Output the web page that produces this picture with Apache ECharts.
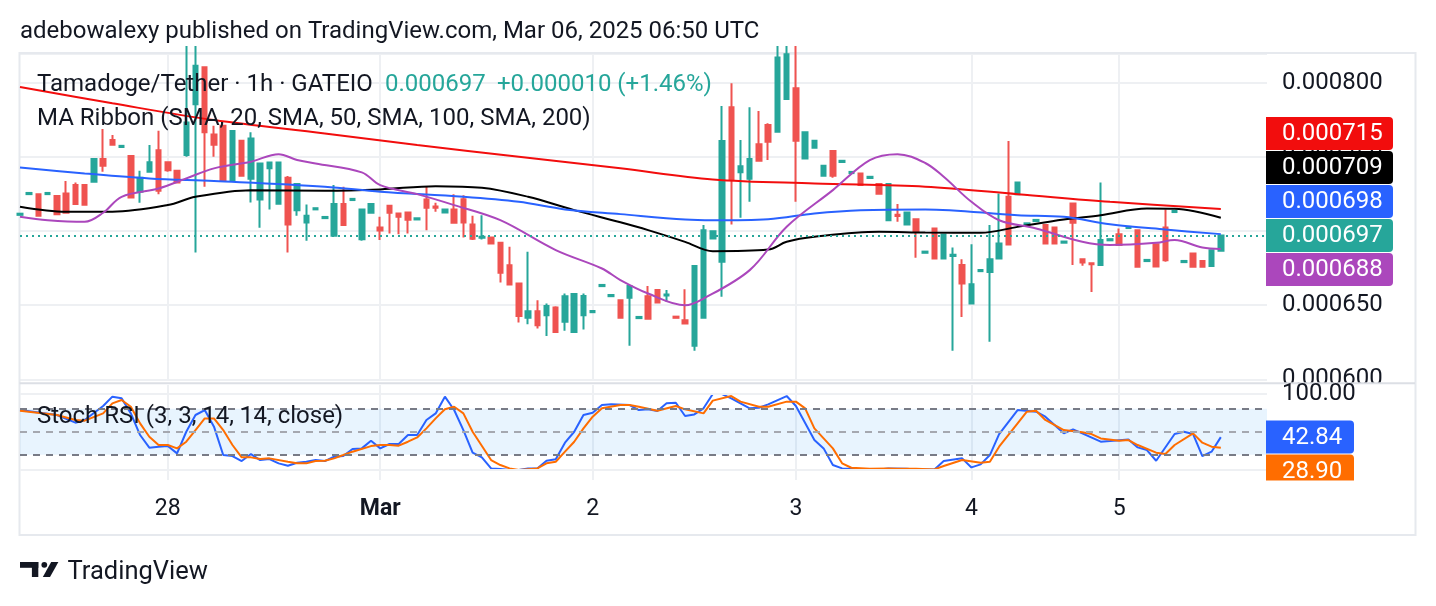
<!DOCTYPE html>
<html><head><meta charset="utf-8">
<script src="https://cdn.jsdelivr.net/npm/echarts@6/dist/echarts.min.js"></script>
<style>html,body{margin:0;padding:0;background:#fff}#c{width:1436px;height:606px}</style>
</head><body><div id="c"></div><script>
// Prices in micro-USDT (1e-6), hourly candles of Tamadoge/Tether (GATEIO)
const opens = [711.0,725.0,725.0,725.0,723.7,725.5,731.1,731.1,733.3,748.7, 761.5,756.8,750.7,726.6,740.1,754.7,746.6,740.8,751.4,785.6, 810.6,765.3,771.2,734.5,761.0,735.4,721.4,742.4,718.5,736.1, 714.2,705.9,714.7,708.8,696.9,718.3,721.0,694.6,712.4,702.5, 717.1,712.0,712.6,707.9,721.4,716.6,712.6,714.7,721.6,704.5, 695.5,695.7,692.1,677.0,664.7,641.5,646.0,643.3,648.4,638.8, 632.0,643.3,645.3,662.9,656.1,653.4,655.0,641.3,656.1,660.2, 656.5,642.3,639.9,622.6,641.5,695.1,679.3,783.6,739.7,735.4, 758.6,771.6,767.1,789.2,796.4,749.1,756.3,737.4,754.1,746.7, 739.2,739.0,735.9,731.8,707.4,711.0,704.5,708.1,685.4,701.8, 681.6,683.2,677.1,651.1,673.0,672.5,681.6,723.2,725.0,704.5, 706.8,704.1,702.5,692.2,718.7,681.1,678.4,677.1,693.8,698.0, 702.1,700.7,679.8,691.2,702.5,712.9,679.1,684.9,679.8,676.4, 686.7];
const closes = [711.8,725.8,710.4,725.8,711.5,712.4,718.3,717.8,748.7,744.2, 758.3,757.6,722.8,736.1,746.6,727.3,741.2,732.9,773.4,811.7, 766.7,758.3,734.5,767.6,737.4,762.6,745.7,746.4,746.4,704.5, 731.8,710.4,715.5,709.6,718.3,704.1,721.8,714.7,718.3,700.5, 712.4,709.7,707.7,708.7,715.8,715.8,714.7,705.6,705.9,694.8, 696.3,691.7,671.9,664.0,642.8,646.0,636.5,649.4,632.0,656.1, 657.5,656.3,646.1,663.7,656.9,641.5,662.9,642.1,640.8,651.8, 657.3,641.5,637.6,676.4,700.7,700.0,760.8,734.5,743.9,748.7, 747.5,760.4,817.3,819.4,761.0,766.7,761.0,744.2,737.4,747.5, 740.0,731.1,736.7,725.2,731.8,710.2,712.6,699.6,686.2,681.6, 697.8,684.0,664.7,664.2,673.8,681.1,691.7,691.0,732.9,705.3, 707.6,691.7,691.7,693.0,705.6,678.8,677.6,694.0,694.6,690.6, 702.9,676.0,680.6,676.2,680.4,713.7,679.9,676.0,676.0,687.2, 697.0];
const lows = [711.0,725.0,710.4,725.0,711.0,712.4,718.3,717.8,733.3,740.1, 758.3,756.8,722.8,719.2,740.1,725.0,740.1,732.9,750.3,685.6, 730.0,750.3,734.5,734.5,737.4,719.4,702.3,714.7,718.5,685.6, 710.4,693.5,714.7,708.8,696.9,704.1,721.0,693.5,712.4,694.0, 698.4,698.0,698.4,707.9,700.7,713.1,712.6,705.6,695.7,694.0, 694.4,691.7,665.3,664.0,638.3,637.2,634.3,629.3,632.0,632.7, 632.0,633.6,645.3,662.9,656.1,641.5,622.6,641.3,640.8,651.8, 652.3,641.5,637.6,619.2,641.5,695.1,655.7,704.5,709.0,719.8, 747.5,748.0,767.1,789.2,719.8,749.1,756.3,737.4,736.1,746.7, 739.2,731.1,735.9,725.2,707.4,706.3,704.5,682.0,685.4,681.6, 681.6,619.2,642.1,651.1,673.0,625.3,681.6,691.0,725.0,704.5, 706.8,691.7,691.7,692.2,677.1,676.6,659.0,677.1,693.8,690.6, 702.1,676.0,679.8,676.2,679.3,712.9,679.1,676.0,676.0,676.4, 686.7];
const highs = [711.8,725.8,725.0,725.8,724.0,733.8,732.9,731.1,748.7,768.9, 764.9,757.6,750.7,740.8,758.1,767.8,746.6,740.8,825,825, 810.6,771.2,771.2,767.6,761.0,766.7,745.7,746.4,746.4,737.2, 731.8,718.0,715.5,709.6,731.1,730.0,721.8,714.7,718.3,709.7, 717.1,712.0,712.6,708.7,730.0,719.2,714.7,725.0,724.3,710.4, 710.8,695.7,692.1,689.4,664.7,686.1,653.4,651.1,649.3,657.9, 657.9,657.9,646.1,663.7,656.9,653.4,662.9,642.1,662.9,660.2, 660.2,642.3,660.8,676.4,704.1,700.0,784.5,799.8,761.5,783.6, 781.1,772.8,825,825,825,766.7,761.0,744.6,754.1,747.5, 740.0,739.0,736.7,731.8,731.8,718.3,712.6,708.1,686.2,701.8, 697.8,689.0,681.1,691.2,673.8,704.1,725.5,760.8,732.9,705.3, 707.6,704.1,702.5,693.0,718.7,681.1,678.4,732.9,694.6,701.8, 702.9,700.7,680.6,691.2,714.7,713.7,679.9,684.9,679.8,687.2, 697.0];

// MA ribbon readings: [bar index, value]
const sma20 = [[0,709.7],[3,707.4],[7,706.3],[9,712.4],[11,723.2],[15,728.8],[18,735.6],[21,742.4],[25,746.9],[28,752.0],[30,748.0],[32,745.7],[37,739.7],[39,731.1],[43,725.0],[47,717.6],[52,707.4],[58,687.2],[63,674.8],[65,667.0],[68,657.9],[72,650.0],[74,654.5],[79,673.7],[83,703.0],[88,727.7],[92,748.0],[95,752.0],[98,746.0],[100,736.7],[103,719.8],[106,707.4],[110,701.8],[115,692.8],[118,690.6],[123,692.1],[125,694.0],[128,689.0],[130,688.0]];
const sma50 = [[0,743.0],[7,739.0],[14,735.6],[21,733.8],[33,730.0],[39,726.6],[48,723.2],[54,719.8],[59,714.7],[65,711.5],[72,707.9],[75,707.4],[81,708.1],[86,712.0],[91,714.2],[98,714.7],[108,710.8],[113,709.7],[118,704.7],[124,701.1],[130,698.0]];
const sma100 = [[0,716.5],[5,713.1],[10,713.1],[16,717.6],[19,723.2],[25,727.7],[33,727.3],[39,728.2],[45,730.4],[50,729.3],[55,723.2],[60,714.2],[65,706.0],[68,700.7],[72,692.8],[75,686.5],[81,687.6],[83,692.8],[86,696.2],[93,699.6],[98,699.1],[104,698.9],[108,702.9],[113,707.9],[117,710.8],[122,715.3],[125,715.1],[130,709.0]];
const sma200 = [[0,797.3],[10,786.3],[21,775.0],[33,766.0],[43,758.1],[54,750.2],[65,742.4],[75,734.9],[86,732.2],[98,730.0],[108,725.0],[118,719.8],[130,715.0]];

// Stoch RSI readings: [bar index, value]
const stochK = [[0,78.2],[4,71.7],[6,61.7],[7,65.2],[9,83.4],[10,95.6],[11,93.4],[12,73.8],[13,45.6],[14,29.1],[15,30.4],[16,31.2],[17,21.7],[18,49.9],[19,71.7],[20,78.2],[21,56.5],[22,19.5],[23,18.2],[24,11.7],[25,20.8],[26,13.0],[27,14.3],[28,8.7],[29,5.6],[30,9.5],[31,10.8],[32,13.0],[33,11.7],[34,17.3],[35,18.2],[36,27.3],[37,28.2],[38,38.2],[39,28.2],[40,33.9],[41,33.9],[42,45.6],[43,45.6],[44,65.2],[45,73.8],[46,95.6],[47,78.2],[48,52.1],[49,22.6],[50,16.5],[51,2.1],[52,1.3],[53,0],[54,0],[55,2.1],[56,2.1],[57,12.1],[58,13.9],[59,35.6],[60,49.9],[61,71.7],[62,74.7],[63,84.7],[64,85.6],[66,84.7],[67,78.2],[68,79.1],[69,76.9],[70,86.9],[71,87.7],[72,70.4],[73,72.5],[74,80.4],[75,99.0],[76,99.0],[77,93.4],[79,80.4],[80,81.2],[81,85.6],[83,96.4],[84,83.4],[86,39.1],[87,28.2],[88,6.5],[89,2.1],[91,1.3],[93,0.8],[94,2.1],[96,1.7],[97,0.8],[99,0.8],[100,11.7],[102,15.2],[103,3.4],[104,7.3],[105,19.5],[106,46.9],[108,78.2],[110,76.0],[111,69.5],[113,47.8],[114,53.0],[115,47.8],[117,36.9],[118,37.8],[120,39.9],[121,29.5],[122,26.0],[123,12.1],[125,46.9],[126,49.9],[127,46.9],[128,18.2],[129,23.9],[130,42.84]];
const stochD = [[0,77.3],[4,71.7],[6,65.2],[7,64.3],[9,73.8],[10,86.9],[11,91.2],[12,82.5],[13,60.8],[14,43.4],[15,32.6],[16,32.6],[17,28.2],[18,36.9],[19,52.1],[20,67.3],[21,67.3],[22,52.1],[23,32.6],[24,16.5],[25,16.5],[26,14.3],[27,15.2],[29,10.8],[30,8.7],[31,8.7],[32,11.7],[33,12.1],[34,15.2],[35,19.5],[36,23.9],[38,31.2],[39,32.6],[40,32.6],[41,31.7],[42,36.9],[43,42.5],[44,54.3],[45,67.3],[46,79.1],[47,82.5],[48,73.8],[49,49.9],[51,13.0],[52,6.5],[53,2.1],[54,0],[56,2.1],[57,8.7],[58,10.8],[59,23.9],[60,36.9],[61,54.3],[62,69.5],[63,80.4],[65,84.7],[66,84.7],[67,82.5],[69,77.3],[71,83.4],[72,79.1],[74,73.8],[75,90.4],[77,96.4],[78,89.1],[80,82.5],[81,82.5],[83,89.1],[84,89.1],[85,80.4],[86,54.3],[88,28.2],[89,8.7],[90,3.0],[92,1.7],[94,2.1],[95,1.7],[97,1.7],[99,0.8],[100,5.2],[102,13.0],[104,9.5],[105,10.8],[106,30.4],[108,60.8],[109,76.0],[110,77.3],[111,65.2],[113,52.1],[115,49.1],[116,46.9],[117,41.2],[119,38.2],[120,39.1],[121,32.6],[123,22.6],[124,20.8],[125,32.6],[127,47.8],[128,35.6],[129,30.4],[130,28.90]];

// Time axis: bar index of each day start and its label
const dayTickIndex = [16, 39, 62, 84, 103, 119];
const dayTickLabel = ['28', 'Mar', '2', '3', '4', '5'];
const priceTicks = [600, 650, 700, 750, 800];
const stochLevels = [20, 50, 80];

const headerText = 'adebowalexy published on TradingView.com, Mar 06, 2025 06:50 UTC';
const symbolText = 'Tamadoge/Tether · 1h · GATEIO';
const changeText = '+0.000010 (+1.46%)';
const ribbonText = 'MA Ribbon (SMA, 20, SMA, 50, SMA, 100, SMA, 200)';
const stochText = 'Stoch RSI (3, 3, 14, 14, close)';

const SLOTS = 136;
const cats = Array.from({length: SLOTS}, (_, i) => String(i));
const candles = opens.map((o, i) => [o, closes[i], lows[i], highs[i]]);
const fmtP = v => (v / 1e6).toFixed(6);
const last = a => a[a.length - 1][1];
const lastClose = closes[closes.length - 1];

const FONT = 'Roboto, "Noto Sans", sans-serif';
const TXT = '#131722';
const UP = '#26a69a', DOWN = '#ef5350';
const C20 = '#ab47bc', C50 = '#2962ff', C100 = '#000000', C200 = '#f20d0d';
const CK = '#2962ff', CD = '#ff6d00';
const GRIDC = '#eef0f3';

const isDay = (i) => dayTickIndex.indexOf(Number(i)) >= 0;

const chart = echarts.init(document.getElementById('c'), null, {renderer: 'canvas'});

function txt(x, y, s, size, color, extra) {
  return Object.assign({type: 'text', x: x, y: y, z: 100, silent: true,
    style: {text: s, fill: color, font: size + 'px ' + FONT, textAlign: 'left', align: 'left', textVerticalAlign: 'middle', verticalAlign: 'middle'}}, extra || {});
}
function badge(y, h, w, color, s) {
  return [
    {type: 'rect', z: 110, silent: true, shape: {x: 1266, y: y, width: w, height: h, r: [0, 4, 4, 0]}, style: {fill: color}},
    Object.assign(txt(1282, y + h / 2 + 0.5, s, 24, '#ffffff'), {z: 111})
  ];
}

const graphics = [
  txt(20, 32, headerText, 24, TXT),
  {type: 'rect', z: 1, silent: true, shape: {x: 19.5, y: 53, width: 1396, height: 482}, style: {fill: 'none', stroke: '#e6e9ee', lineWidth: 2}},
  txt(37, 85, symbolText, 24, TXT),
  txt(385, 85, fmtP(lastClose), 24, UP),
  txt(497, 85, changeText, 24, UP),
  txt(37, 118.5, ribbonText, 24, TXT),
  txt(37, 416.5, stochText, 24, TXT),
  // cut-off lowest price label of the main scale
  Object.assign(txt(1282, 378.5, fmtP(priceTicks[0]), 24, TXT), {z: 50}),
  {type: 'rect', z: 51, silent: true, shape: {x: 1268, y: 384, width: 140, height: 9}, style: {fill: '#ffffff'}},
  {type: 'line', z: 52, silent: true, shape: {x1: 19.5, y1: 383.3, x2: 1415, y2: 383.3}, style: {stroke: '#dcdfe5', lineWidth: 2}},
  Object.assign(txt(1282, 393.8, '100.00', 24, TXT), {z: 53}),
  // logo
  {type: 'rect', z: 5, silent: true, shape: {x: 20, y: 562, width: 18.3, height: 5.8}, style: {fill: TXT}},
  {type: 'rect', z: 5, silent: true, shape: {x: 31.9, y: 562, width: 6.4, height: 15}, style: {fill: TXT}},
  {type: 'circle', z: 5, silent: true, shape: {cx: 44.3, cy: 564.8, r: 2.9}, style: {fill: TXT}},
  {type: 'polygon', z: 5, silent: true, shape: {points: [[42.8, 577], [50, 577], [58.4, 562], [51.2, 562]]}, style: {fill: TXT}},
  txt(67.5, 572.5, 'TradingView', 25.5, TXT)
];
graphics.push(...badge(117, 33, 127, C200, fmtP(last(sma200))));
graphics.push(...badge(151, 33, 127, C100, fmtP(last(sma100))));
graphics.push(...badge(185, 33, 127, C50, fmtP(last(sma50))));
graphics.push(...badge(219, 33, 127, UP, fmtP(lastClose)));
graphics.push(...badge(253, 33, 127, C20, fmtP(last(sma20))));
graphics.push(...badge(420.5, 33, 88, CK, last(stochK).toFixed(2)));
graphics.push(...badge(454.5, 33, 88, CD, last(stochD).toFixed(2)));
graphics.push({type: 'rect', z: 120, silent: true, shape: {x: 1264, y: 480.5, width: 110, height: 14}, style: {fill: '#ffffff'}});

const maLine = (name, data, color) => ({
  name: name, type: 'line', xAxisIndex: 0, yAxisIndex: 0, data: data, showSymbol: false, symbol: 'none',
  smooth: 0.35, z: 3, lineStyle: {color: color, width: 2}, silent: true
});

const option = {
  animation: false,
  backgroundColor: '#ffffff',
  textStyle: {fontFamily: FONT},
  grid: [
    {left: 20, top: 53.4, width: 1247, height: 325.9, containLabel: false},
    {left: 20, top: 385, width: 1247, height: 95, containLabel: false}
  ],
  xAxis: [
    {type: 'category', gridIndex: 0, data: cats, boundaryGap: false,
     axisLine: {show: false}, axisTick: {show: false}, axisLabel: {show: false},
     splitLine: {show: true, interval: (i) => isDay(i), lineStyle: {color: GRIDC, width: 2}}},
    {type: 'category', gridIndex: 1, data: cats, boundaryGap: false,
     axisLine: {show: false}, axisTick: {show: false},
     axisLabel: {show: true, interval: (i) => isDay(i), margin: 18, color: TXT, fontSize: 23, lineHeight: 23, fontFamily: FONT,
       formatter: (v) => { const k = dayTickIndex.indexOf(Number(v)); if (k < 0) return ''; const s = dayTickLabel[k]; return s === 'Mar' ? '{b|' + s + '}' : s; },
       rich: {b: {fontWeight: 'bold', fontSize: 23, color: TXT, fontFamily: FONT, lineHeight: 23}}},
     splitLine: {show: true, interval: (i) => isDay(i), lineStyle: {color: GRIDC, width: 2}}}
  ],
  yAxis: [
    {type: 'value', gridIndex: 0, position: 'right', min: 600, max: 820, interval: 50, scale: false,
     axisLine: {show: false}, axisTick: {show: false},
     axisLabel: {show: true, margin: 15, align: 'left', color: TXT, fontSize: 24, fontFamily: FONT,
       formatter: (v) => (priceTicks.indexOf(v) > 0) ? fmtP(v) : ''},
     splitLine: {show: true, lineStyle: {color: GRIDC, width: 2}}},
    {type: 'value', gridIndex: 1, min: -13, max: 110.8, show: false, splitLine: {show: false}}
  ],
  graphic: {elements: graphics},
  series: [
    {name: 'Tamadoge/Tether', type: 'candlestick', xAxisIndex: 0, yAxisIndex: 0, data: candles, barWidth: 5, z: 2,
     itemStyle: {color: UP, color0: DOWN, borderColor: UP, borderColor0: DOWN, borderWidth: 2},
     markLine: {silent: true, symbol: ['none', 'none'], label: {show: false}, animation: false,
       lineStyle: {color: UP, type: [2, 4], width: 2}, data: [{yAxis: lastClose}]}},
    maLine('SMA 200', sma200, C200),
    maLine('SMA 100', sma100, C100),
    maLine('SMA 50', sma50, C50),
    maLine('SMA 20', sma20, C20),
    {name: '%K', type: 'line', xAxisIndex: 1, yAxisIndex: 1, data: stochK, showSymbol: false, symbol: 'none', z: 3,
     lineStyle: {color: CK, width: 2}, silent: true,
     markArea: {silent: true, itemStyle: {color: 'rgba(33,150,243,0.1)'}, data: [[{yAxis: stochLevels[0]}, {yAxis: stochLevels[2]}]]},
     markLine: {silent: true, symbol: ['none', 'none'], label: {show: false}, animation: false,
       data: [
         {yAxis: 0, lineStyle: {color: GRIDC, width: 2, type: 'solid'}},
         {yAxis: 100, lineStyle: {color: GRIDC, width: 2, type: 'solid'}},
         {yAxis: stochLevels[2], lineStyle: {color: '#787b86', width: 2, type: [7, 6]}},
         {yAxis: stochLevels[1], lineStyle: {color: '#a5a8b0', width: 2, type: [7, 6]}},
         {yAxis: stochLevels[0], lineStyle: {color: '#787b86', width: 2, type: [7, 6]}}
       ]}},
    {name: '%D', type: 'line', xAxisIndex: 1, yAxisIndex: 1, data: stochD, showSymbol: false, symbol: 'none', z: 4,
     lineStyle: {color: CD, width: 2}, silent: true}
  ]
};
chart.setOption(option);
</script></body></html>
